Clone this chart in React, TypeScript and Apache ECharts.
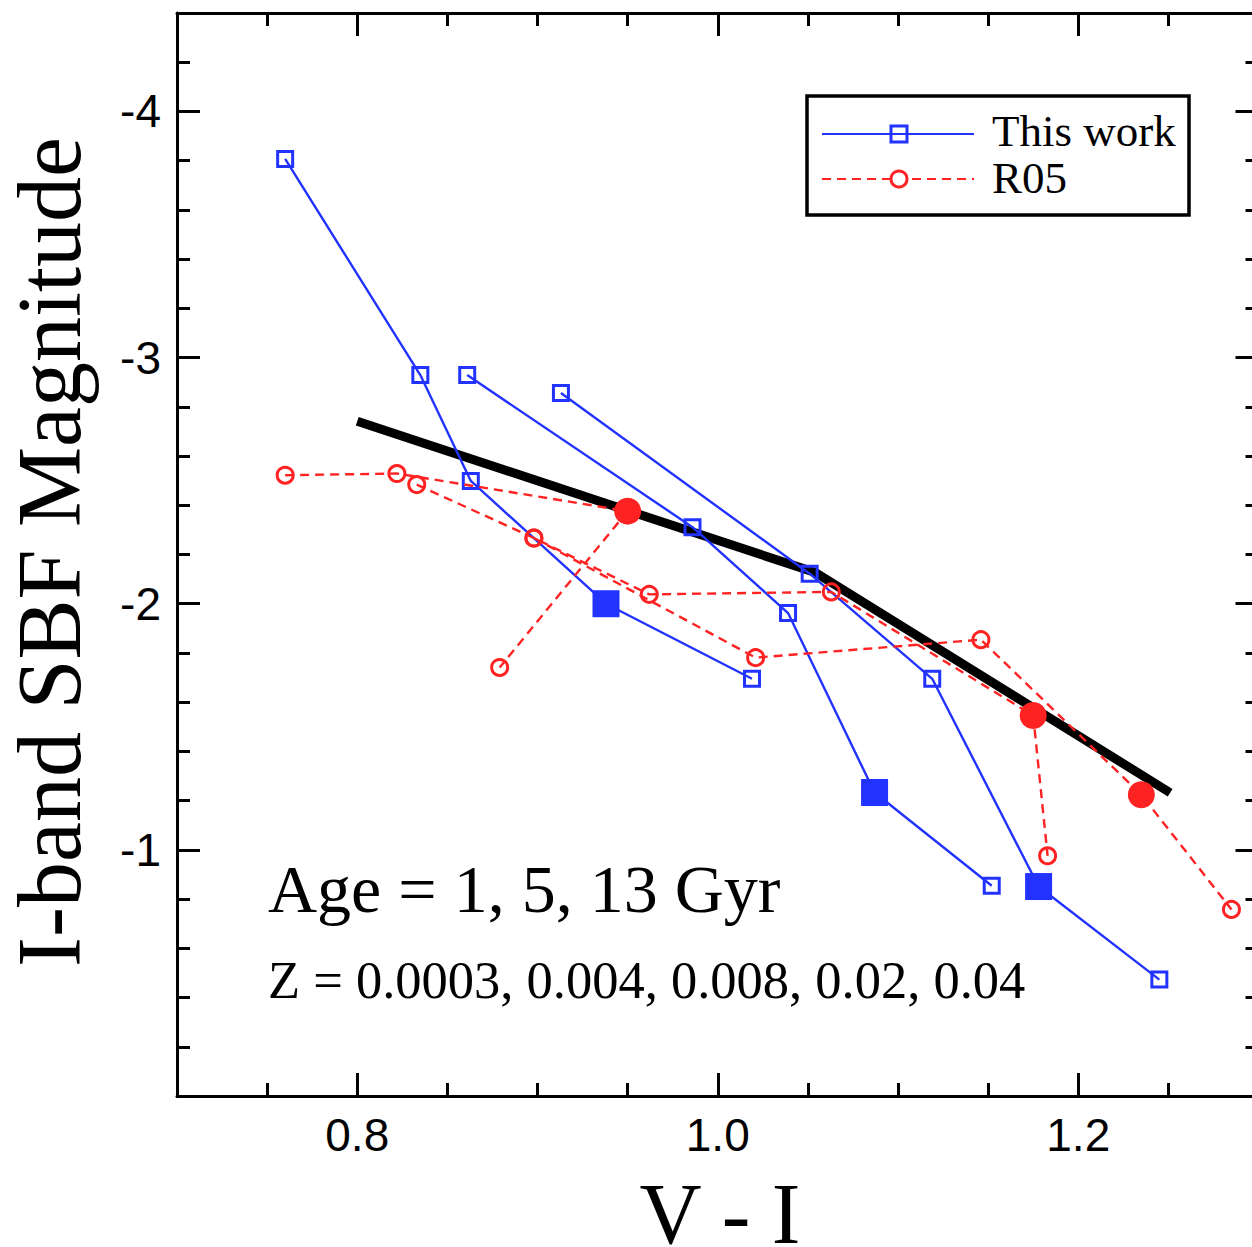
import React, { useEffect, useRef } from "react";
import * as echarts from "echarts";

const BLUE = "#2233ff";
const RED = "#ff2222";

// "This work" tracks (one per age), points ordered by Z = 0.0003, 0.004, 0.008, 0.02, 0.04
const thisWorkAge1: number[][] = [[0.760, -3.807], [0.835, -2.929], [0.863, -2.499], [0.938, -2.000], [1.019, -1.695]];
const thisWorkAge5: number[][] = [[0.861, -2.929], [0.986, -2.311], [1.039, -1.962], [1.087, -1.233], [1.152, -0.854]];
const thisWorkAge13: number[][] = [[0.913, -2.856], [1.051, -2.122], [1.119, -1.695], [1.178, -0.851], [1.245, -0.473]];
const thisWorkSolarIndex = [3, 3, 3];

// R05 tracks
const r05TrackA: number[][] = [[0.760, -2.522], [0.822, -2.529], [0.950, -2.376], [0.879, -1.741]];
const r05TrackB: number[][] = [[0.833, -2.484], [0.898, -2.267], [0.962, -2.038], [1.063, -2.048], [1.175, -1.546], [1.183, -0.976]];
const r05TrackC: number[][] = [[0.898, -2.267], [1.021, -1.781], [1.146, -1.854], [1.235, -1.224], [1.285, -0.758]];
const r05SolarIndex = [2, 4, 3];

// empirical relation (thick black line)
const relationX = [0.8, 1.054, 1.251];
const relationY = [-2.741, -2.127, -1.232];

const xTickLabels = [0.8, 1.0, 1.2];
const yTickLabels = [-4, -3, -2, -1];

const SERIF = '"Liberation Serif", "Times New Roman", serif';
const SANS = '"Liberation Sans", Arial, sans-serif';

function track(
  pts: number[][],
  solarIdx: number,
  color: string,
  symbol: string,
  openSize: number,
  filledSize: number,
  dashed: boolean,
  z: number
) {
  return {
    type: "line",
    xAxisIndex: 0,
    yAxisIndex: 0,
    silent: true,
    z,
    symbol,
    symbolSize: openSize,
    showAllSymbol: true,
    itemStyle: { color: "rgba(0,0,0,0)", borderColor: color, borderWidth: 3 },
    lineStyle: { color, width: 2.4, type: dashed ? [9, 6] : "solid" },
    emphasis: { disabled: true },
    data: pts.map((p, i) =>
      i === solarIdx
        ? { value: p, symbolSize: filledSize, itemStyle: { color, borderColor: color, borderWidth: 0 } }
        : { value: p }
    ),
  };
}

const axisLineStyle = { color: "#000", width: 3 };

function minorAxis(position: string, min: number, max: number, interval: number, inverse = false) {
  return {
    type: "value",
    position,
    min,
    max,
    interval,
    inverse,
    axisLine: { show: true, onZero: false, lineStyle: axisLineStyle },
    axisTick: { show: true, inside: true, length: 13, lineStyle: axisLineStyle },
    axisLabel: { show: false },
    splitLine: { show: false },
  };
}

function majorAxis(
  position: string,
  min: number,
  max: number,
  values: number[],
  showLabel: boolean,
  fmt: (v: number) => string,
  inverse = false
) {
  return {
    type: "value",
    position,
    min,
    max,
    inverse,
    axisLine: { show: false, onZero: false },
    axisTick: { show: true, inside: true, length: 23, customValues: values, lineStyle: axisLineStyle },
    axisLabel: {
      show: showLabel,
      customValues: values,
      formatter: fmt,
      fontSize: 46,
      fontFamily: SANS,
      color: "#000",
      margin: 16,
    },
    splitLine: { show: false },
  };
}

export default function App() {
  const ref = useRef<HTMLDivElement>(null);

  useEffect(() => {
    if (!ref.current) return;
    const chart = echarts.init(ref.current, undefined, { renderer: "svg" });

    const xfmt = (v: number) => v.toFixed(1);
    const yfmt = (v: number) => String(Math.round(v));

    const option: any = {
      animation: false,
      backgroundColor: "#fff",
      grid: { left: 177, top: 13, right: 1.5, bottom: 151, containLabel: false },
      xAxis: [
        minorAxis("bottom", 0.7, 1.3, 0.05),
        majorAxis("bottom", 0.7, 1.3, xTickLabels, true, xfmt),
        minorAxis("top", 0.7, 1.3, 0.05),
        majorAxis("top", 0.7, 1.3, xTickLabels, false, xfmt),
      ],
      yAxis: [
        minorAxis("left", -4.4, 0, 0.2, true),
        majorAxis("left", -4.4, 0, yTickLabels, true, yfmt, true),
        minorAxis("right", -4.4, 0, 0.2, true),
        majorAxis("right", -4.4, 0, yTickLabels, false, yfmt, true),
      ],
      series: [
        {
          type: "line",
          xAxisIndex: 0,
          yAxisIndex: 0,
          silent: true,
          z: 1,
          symbol: "none",
          lineStyle: { color: "#000", width: 9, join: "miter", cap: "butt" },
          data: relationX.map((x, i) => [x, relationY[i]]),
        },
        track(thisWorkAge1, thisWorkSolarIndex[0], BLUE, "rect", 15, 27, false, 2),
        track(thisWorkAge5, thisWorkSolarIndex[1], BLUE, "rect", 15, 27, false, 2),
        track(thisWorkAge13, thisWorkSolarIndex[2], BLUE, "rect", 15, 27, false, 2),
        track(r05TrackA, r05SolarIndex[0], RED, "circle", 16, 27, true, 3),
        track(r05TrackB, r05SolarIndex[1], RED, "circle", 16, 27, true, 3),
        track(r05TrackC, r05SolarIndex[2], RED, "circle", 16, 27, true, 3),
      ],
      graphic: [
        // legend box
        {
          type: "rect",
          z: 100,
          shape: { x: 807, y: 96, width: 382, height: 119 },
          style: { fill: "#fff", stroke: "#000", lineWidth: 3.5 },
        },
        {
          type: "line",
          z: 101,
          shape: { x1: 822, y1: 134, x2: 974, y2: 134 },
          style: { stroke: BLUE, lineWidth: 2.2 },
        },
        {
          type: "rect",
          z: 102,
          shape: { x: 891, y: 126, width: 16, height: 16 },
          style: { fill: "none", stroke: BLUE, lineWidth: 3 },
        },
        {
          type: "line",
          z: 101,
          shape: { x1: 822, y1: 179, x2: 974, y2: 179 },
          style: { stroke: RED, lineWidth: 2.2, lineDash: [9, 6] },
        },
        {
          type: "circle",
          z: 102,
          shape: { cx: 899, cy: 179, r: 8 },
          style: { fill: "#fff", stroke: RED, lineWidth: 3 },
        },
        {
          type: "text",
          z: 102,
          style: { text: "This work", x: 992, y: 131, font: `45px ${SERIF}`, lineHeight: 40, fill: "#000", textVerticalAlign: "middle" },
        },
        {
          type: "text",
          z: 102,
          style: { text: "R05", x: 992, y: 178, font: `45px ${SERIF}`, lineHeight: 40, fill: "#000", textVerticalAlign: "middle" },
        },
        // annotations
        {
          type: "text",
          z: 102,
          style: { text: "Age = 1, 5, 13 Gyr", x: 268, y: 889, font: `68px ${SERIF}`, fill: "#000", textVerticalAlign: "middle" },
        },
        {
          type: "text",
          z: 102,
          style: {
            text: "Z = 0.0003, 0.004, 0.008, 0.02, 0.04",
            x: 268,
            y: 980,
            font: `52.5px ${SERIF}`,
            fill: "#000",
            textVerticalAlign: "middle",
          },
        },
        // axis titles
        {
          type: "text",
          z: 102,
          x: 720,
          y: 1214,
          style: {
            text: "V - I",
            x: 0,
            y: 0,
            font: `86px ${SERIF}`,
            lineHeight: 60,
            fill: "#000",
            textAlign: "center",
            textVerticalAlign: "middle",
          },
        },
        {
          type: "text",
          z: 102,
          x: 49,
          y: 552,
          rotation: Math.PI / 2,
          style: {
            text: "I-band SBF Magnitude",
            x: 0,
            y: 0,
            font: `90px ${SERIF}`,
            fill: "#000",
            textAlign: "center",
            textVerticalAlign: "middle",
          },
        },
      ],
    };

    chart.setOption(option);
    return () => chart.dispose();
  }, []);

  return (
    <div
      style={{ position: "absolute", left: 0, top: 0, width: 1252, height: 1247, overflow: "hidden", background: "#fff" }}
    >
      <div ref={ref} style={{ width: 1260, height: 1247 }} />
    </div>
  );
}
